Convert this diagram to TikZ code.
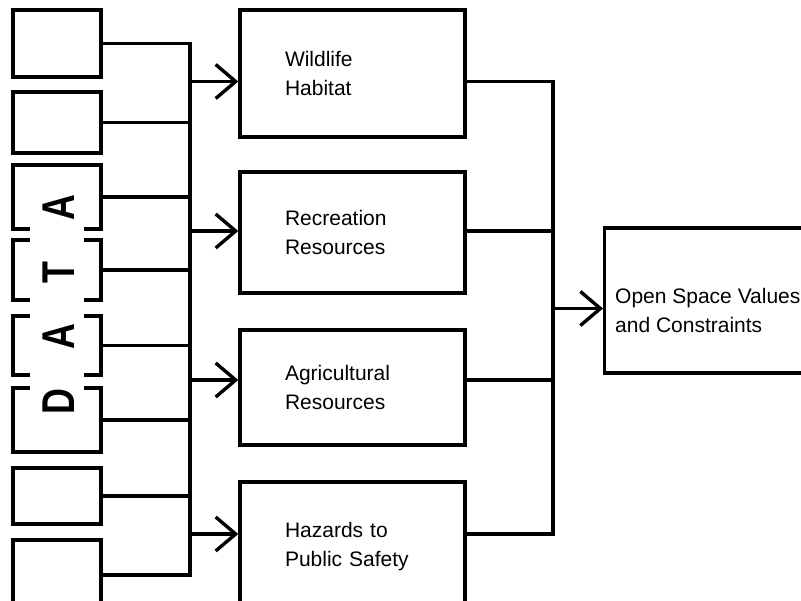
\documentclass[tikz,border=0pt]{standalone}
\usepackage{fontspec}
\setmainfont{Liberation Sans}
\usepackage{tikz}
\usetikzlibrary{positioning, arrows.meta}
\tikzset{myLine/.style={line width=3.4pt, color=black}}
\tikzset{myDataBox/.style={myLine, draw, minimum width=88pt, inner sep=0pt}}
\tikzset{myOpenBox/.style={minimum width=88pt, inner sep=0pt, outer sep=0pt}}
\tikzset{myLetter/.style={font=\fontsize{46}{46}\selectfont\bfseries, rotate=90, xscale=0.78, inner sep=0pt}}
\tikzset{myTopicBox/.style={myLine, draw, minimum width=225pt, text width=135pt, align=left, font=\fontsize{21}{29}\selectfont}}
\tikzset{myFlow/.style={myLine, -{Straight Barb[length=20pt, width=34pt]}}}

\begin{document}
\begin{tikzpicture}[x=1pt, y=-1pt]
	\useasboundingbox (0,0) rectangle (801,601);
	\clip (0,0) rectangle (801,601);

	% data sources
	\node[myDataBox, minimum height=67pt] (d1) at (57,43.5) {};
	\node[myDataBox, minimum height=61pt] (d2) at (57,122.5) {};
	\node[myOpenBox, minimum height=64pt] (d3) at (57,197) {};
	\node[myOpenBox, minimum height=60pt] (d4) at (57,270) {};
	\node[myOpenBox, minimum height=59pt] (d5) at (57,345.5) {};
	\node[myOpenBox, minimum height=64pt] (d6) at (57,420) {};
	\node[myDataBox, minimum height=56pt] (d7) at (57,496) {};
	\node[myDataBox, minimum height=70pt] (d8) at (57,575) {};

	\draw[myLine] ([xshift=17pt]d3.south west) -- (d3.south west) -- (d3.north west) -- (d3.north east) -- (d3.south east) -- ([xshift=-17pt]d3.south east);
	\foreach \n in {d4,d5}{
		\draw[myLine] ([xshift=17pt]\n.north west) -- (\n.north west) -- (\n.south west) -- ([xshift=17pt]\n.south west);
		\draw[myLine] ([xshift=-17pt]\n.north east) -- (\n.north east) -- (\n.south east) -- ([xshift=-17pt]\n.south east);
	}
	\draw[myLine] ([xshift=17pt]d6.north west) -- (d6.north west) -- (d6.south west) -- (d6.south east) -- (d6.north east) -- ([xshift=-17pt]d6.north east);

	\foreach \ch/\yy [count=\i] in {D/402, A/337, T/273, A/208}
		\node[myLetter] (letter\i) at (59,\yy) {\ch};

	% topics
	\node[myTopicBox, minimum height=127pt] (wild) at (352.5,73.5) {Wildlife\\Habitat};
	\node[myTopicBox, minimum height=121pt] (recr) at (352.5,232.5) {Recreation\\Resources};
	\node[myTopicBox, minimum height=115pt] (agri) at (352.5,387.5) {Agricultural\\Resources};
	\node[myTopicBox, minimum height=130pt] (haz) at (352.5,547) {Hazards to\\Public Safety};

	\node[myLine, draw, minimum width=240pt, minimum height=145pt, anchor=west] (osv) at (603,300.5) {};
	\node[anchor=west, align=left, inner sep=0pt, font=\fontsize{21}{29}\selectfont] (osvtext) at ([xshift=12pt,yshift=-10pt]osv.west) {Open Space Values\\and Constraints};

	% buses
	\coordinate (lbus) at (190,0);
	\coordinate (rbus) at (553,0);
	\draw[myLine] (d1.east) -| (d8.east -| lbus) -- (d8.east);
	\foreach \n in {d2,d3,d4,d5,d6,d7}
		\draw[myLine] (\n.east) -- (\n.east -| lbus);

	\foreach \n/\s in {wild/-8, recr/1.5, agri/7.5, haz/13}{
		\coordinate (in\n) at ([yshift=\s pt]\n.west);
		\coordinate (out\n) at ([yshift=\s pt]\n.east);
	}
	\foreach \n in {wild,recr,agri,haz}
		\draw[myFlow] (in\n -| lbus) -- (in\n);

	\draw[myLine] (outwild) -| (outhaz -| rbus) -- (outhaz);
	\foreach \n in {recr,agri}
		\draw[myLine] (out\n) -- (out\n -| rbus);
	\coordinate (inosv) at ([yshift=-8pt]osv.west);
	\draw[myFlow] (inosv -| rbus) -- (inosv);

\end{tikzpicture}
\end{document}
